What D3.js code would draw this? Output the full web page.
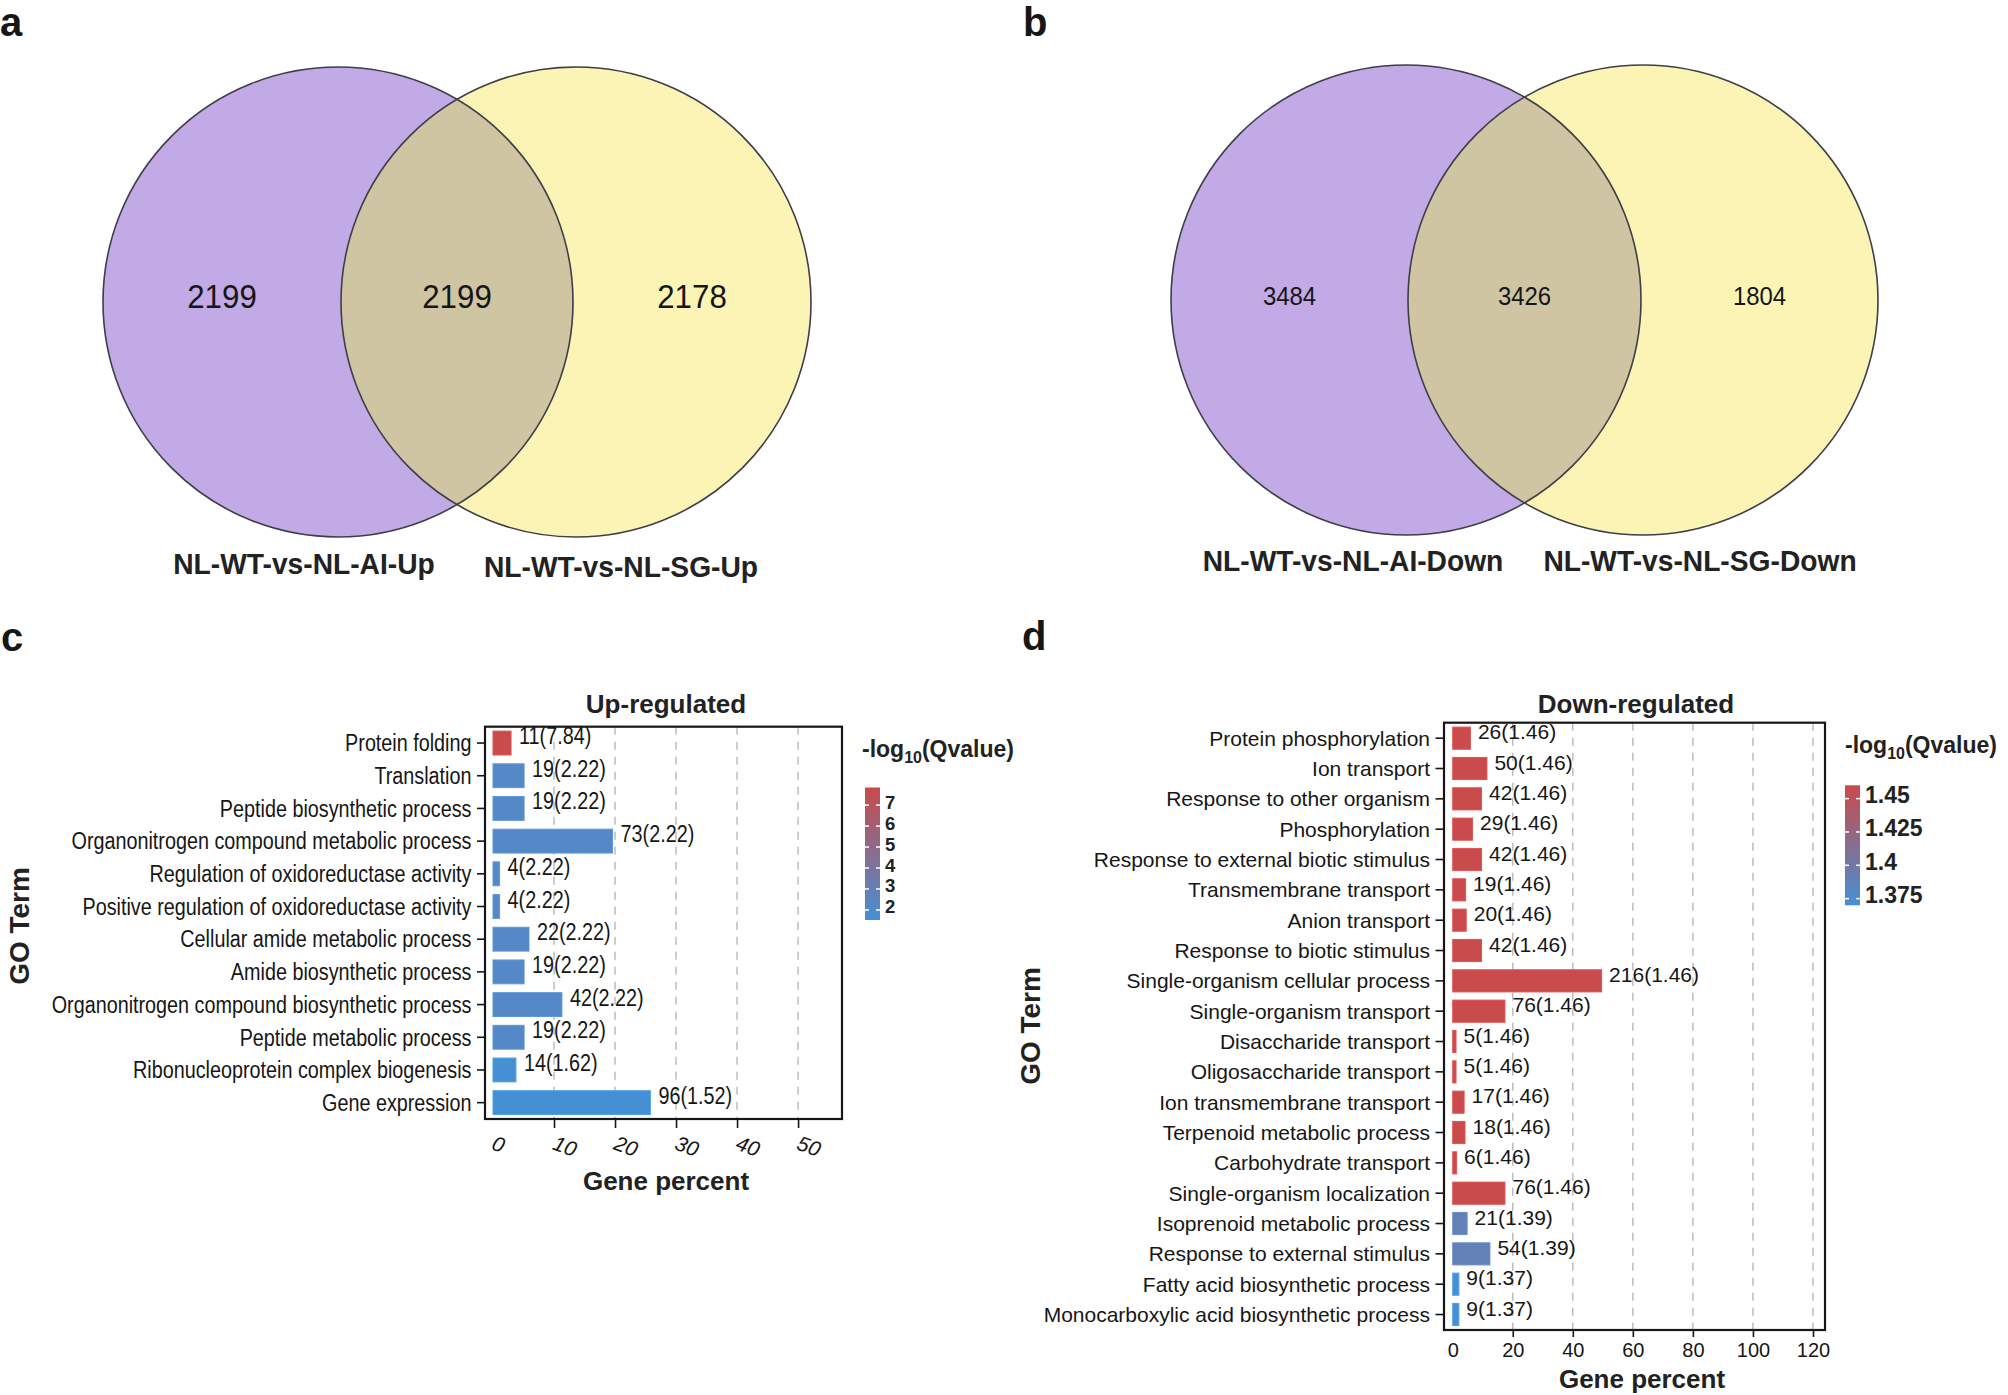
<!DOCTYPE html>
<html>
<head>
<meta charset="utf-8">
<script src="https://cdn.jsdelivr.net/npm/d3@7"></script>
<style>
  html, body { margin: 0; padding: 0; background: #ffffff; }
  svg { display: block; }
</style>
</head>
<body>
<svg id="chart" width="2008" height="1395"></svg>
<script>
// ---------------- DATA ----------------
const vennUpLabels = ["NL-WT-vs-NL-AI-Up", "NL-WT-vs-NL-SG-Up"];
const vennUpCounts = [2199, 2199, 2178];          // left only, overlap, right only
const vennDownLabels = ["NL-WT-vs-NL-AI-Down", "NL-WT-vs-NL-SG-Down"];
const vennDownCounts = [3484, 3426, 1804];

const upTerms = [
  "Protein folding", "Translation", "Peptide biosynthetic process",
  "Organonitrogen compound metabolic process", "Regulation of oxidoreductase activity",
  "Positive regulation of oxidoreductase activity", "Cellular amide metabolic process",
  "Amide biosynthetic process", "Organonitrogen compound biosynthetic process",
  "Peptide metabolic process", "Ribonucleoprotein complex biogenesis", "Gene expression"
];
const upPercent = [2.96, 5.1, 5.1, 19.6, 1.08, 1.08, 5.9, 5.1, 11.3, 5.1, 3.76, 25.8];
const upCounts  = [11, 19, 19, 73, 4, 4, 22, 19, 42, 19, 14, 96];
const upQvalue  = [7.84, 2.22, 2.22, 2.22, 2.22, 2.22, 2.22, 2.22, 2.22, 2.22, 1.62, 1.52];
const upXTicks = [0, 10, 20, 30, 40, 50];
const upLegendTicks = [2, 3, 4, 5, 6, 7];

const downTerms = [
  "Protein phosphorylation", "Ion transport", "Response to other organism", "Phosphorylation",
  "Response to external biotic stimulus", "Transmembrane transport", "Anion transport",
  "Response to biotic stimulus", "Single-organism cellular process", "Single-organism transport",
  "Disaccharide transport", "Oligosaccharide transport", "Ion transmembrane transport",
  "Terpenoid metabolic process", "Carbohydrate transport", "Single-organism localization",
  "Isoprenoid metabolic process", "Response to external stimulus",
  "Fatty acid biosynthetic process", "Monocarboxylic acid biosynthetic process"
];
const downPercent = [5.9, 11.4, 9.6, 6.6, 9.6, 4.3, 4.5, 9.6, 49.6, 17.4,
                     1.1, 1.1, 3.8, 4.1, 1.3, 17.4, 4.8, 12.4, 2.05, 2.05];
const downCounts  = [26, 50, 42, 29, 42, 19, 20, 42, 216, 76, 5, 5, 17, 18, 6, 76, 21, 54, 9, 9];
const downQvalue  = [1.46, 1.46, 1.46, 1.46, 1.46, 1.46, 1.46, 1.46, 1.46, 1.46,
                     1.46, 1.46, 1.46, 1.46, 1.46, 1.46, 1.39, 1.39, 1.37, 1.37];
const downXTicks = [0, 20, 40, 60, 80, 100, 120];
const downLegendTicks = [1.375, 1.4, 1.425, 1.45];

// ---------------- STYLE ----------------
const FONT = '"Liberation Sans", Arial, Helvetica, sans-serif';
const INK = "#161616";
const LOW = "#4590d5", HIGH = "#c94b4b";

const svg = d3.select("#chart").attr("font-family", FONT);
const defs = svg.append("defs");

// panel letters
[["a", 0, 36], ["b", 1023, 36], ["c", 1, 651], ["d", 1022, 650]].forEach(([t, x, y]) => {
  svg.append("text").attr("x", x).attr("y", y).attr("font-size", 40)
    .attr("font-weight", "bold").attr("fill", INK).text(t);
});

// ---------------- VENN ----------------
function drawVenn(o) {
  const g = svg.append("g");
  defs.append("clipPath").attr("id", o.id + "-clip")
    .append("circle").attr("cx", o.cxL).attr("cy", o.cy).attr("r", o.r);
  g.append("circle").attr("cx", o.cxL).attr("cy", o.cy).attr("r", o.r).attr("fill", "#c1aae6");
  g.append("circle").attr("cx", o.cxR).attr("cy", o.cy).attr("r", o.r).attr("fill", "#fcf4b4");
  g.append("circle").attr("cx", o.cxR).attr("cy", o.cy).attr("r", o.r).attr("fill", "#cfc5a2")
    .attr("clip-path", `url(#${o.id}-clip)`);
  [o.cxL, o.cxR].forEach(cx => {
    g.append("circle").attr("cx", cx).attr("cy", o.cy).attr("r", o.r)
      .attr("fill", "none").attr("stroke", "#3e3e48").attr("stroke-width", 1.6);
  });
  const xs = [((o.cxL - o.r) + (o.cxR - o.r)) / 2, (o.cxL + o.cxR) / 2, ((o.cxL + o.r) + (o.cxR + o.r)) / 2];
  g.selectAll("text.num").data(o.counts).join("text")
    .attr("transform", (d, i) => `translate(${xs[i]},${o.numY}) scale(0.92,1)`)
    .attr("text-anchor", "middle").attr("font-size", o.numSize).attr("fill", INK)
    .text(d => d);
  g.selectAll("text.lab").data(o.labels).join("text")
    .attr("transform", (d, i) => `translate(${o.labelX[i]},${o.labelY[i]}) scale(0.94,1)`)
    .attr("text-anchor", "middle").attr("font-size", 30).attr("font-weight", "bold")
    .attr("fill", "#222").text(d => d);
}

drawVenn({ id: "va", cxL: 338, cxR: 576, cy: 302, r: 235, counts: vennUpCounts, numY: 308, numSize: 34,
  labels: vennUpLabels, labelX: [304, 621], labelY: [574, 577] });
drawVenn({ id: "vb", cxL: 1406, cxR: 1643, cy: 300, r: 235, counts: vennDownCounts, numY: 305, numSize: 26,
  labels: vennDownLabels, labelX: [1353, 1700], labelY: [571, 571] });

// ---------------- BAR PANELS ----------------
function barPanel(o) {
  const g = svg.append("g");
  const x = d3.scaleLinear().domain(o.xDomain).range([o.left, o.right]);
  const y = d3.scaleBand().domain(o.terms).range([o.top, o.bottom])
    .paddingInner(o.padIn).paddingOuter(o.padOut);
  const color = d3.scaleLinear().domain(o.qDomain).range([LOW, HIGH]).interpolate(d3.interpolateRgb);
  const sx = o.condense;
  const rows = o.terms.map((t, i) => ({ t, p: o.pct[i], n: o.counts[i], q: o.q[i] }));

  // dashed grid
  g.selectAll("line.grid").data(o.gridTicks).join("line")
    .attr("x1", d => x(d)).attr("x2", d => x(d)).attr("y1", o.top).attr("y2", o.bottom)
    .attr("stroke", "#bdbdbd").attr("stroke-width", 1.5).attr("stroke-dasharray", "8,7");

  // bars
  g.selectAll("rect.bar").data(rows).join("rect")
    .attr("x", x(0)).attr("y", d => y(d.t))
    .attr("width", d => x(d.p) - x(0)).attr("height", y.bandwidth())
    .attr("fill", d => color(d.q))
    .attr("stroke", d => d3.color(color(d.q)).brighter(0.3)).attr("stroke-width", 1);

  // value labels
  g.selectAll("text.val").data(rows).join("text")
    .attr("transform", d => `translate(${x(d.p) + o.valGap},${y(d.t) + y.bandwidth() / 2 + 1}) scale(${sx},1)`)
    .attr("font-size", o.valSize).attr("fill", INK)
    .text(d => `${d.n}(${d.q.toFixed(2)})`);

  // frame
  g.append("rect").attr("x", o.left).attr("y", o.top)
    .attr("width", o.right - o.left).attr("height", o.bottom - o.top)
    .attr("fill", "none").attr("stroke", INK).attr("stroke-width", 2.2);

  // y axis
  const ya = g.append("g").attr("transform", `translate(${o.left},0)`)
    .call(d3.axisLeft(y).tickSize(o.yTick).tickPadding(0));
  ya.attr("font-family", FONT);
  ya.select(".domain").remove();
  ya.selectAll(".tick line").attr("stroke", INK).attr("stroke-width", 1.6);
  ya.selectAll(".tick text").attr("x", 0).attr("dy", null)
    .attr("transform", `translate(${-o.yLabelGap},${0.36 * o.labelSize}) scale(${sx},1)`)
    .attr("font-size", o.labelSize).attr("fill", INK);

  // x axis
  const xa = g.append("g").attr("transform", `translate(0,${o.bottom})`)
    .call(d3.axisBottom(x).tickValues(o.xTicks).tickSize(o.xTick).tickFormat(d3.format("d")));
  xa.attr("font-family", FONT);
  xa.select(".domain").remove();
  xa.selectAll(".tick line").attr("stroke", INK).attr("stroke-width", 1.6);
  xa.selectAll(".tick").filter(d => d === 0).select("line").remove();
  if (o.rotateTicks) {
    xa.selectAll(".tick text").attr("y", 0).attr("dy", null)
      .attr("text-anchor", "start").attr("font-style", "italic")
      .attr("transform", `translate(-3,${o.xLabelY - o.bottom}) rotate(20)`)
      .attr("font-size", o.xTickSize).attr("fill", INK);
  } else {
    xa.selectAll(".tick text").attr("y", o.xLabelY - o.bottom).attr("dy", null)
      .attr("font-size", o.xTickSize).attr("fill", INK);
  }

  // titles
  g.append("text").attr("x", o.titleX).attr("y", 713).attr("text-anchor", "middle")
    .attr("font-size", 26).attr("font-weight", "bold").attr("fill", "#222").text(o.title);
  g.append("text").attr("x", o.xTitleX).attr("y", o.xTitleY).attr("text-anchor", "middle")
    .attr("font-size", o.xTitleSize).attr("font-weight", "bold").attr("fill", "#222").text("Gene percent");
  g.append("text").attr("transform", `translate(${o.yTitleX},${o.yTitleY}) rotate(-90)`)
    .attr("text-anchor", "middle").attr("font-size", 28).attr("font-weight", "bold")
    .attr("fill", "#222").text("GO Term");

  // legend
  const ly = d3.scaleLinear().domain(o.qDomain).range(o.legendRange);
  const gid = o.id + "-grad";
  const grad = defs.append("linearGradient").attr("id", gid)
    .attr("x1", 0).attr("y1", 1).attr("x2", 0).attr("y2", 0);
  grad.append("stop").attr("offset", 0).attr("stop-color", LOW);
  grad.append("stop").attr("offset", 1).attr("stop-color", HIGH);
  const lw = 15;
  g.append("rect").attr("x", o.legendX).attr("y", ly(o.qDomain[1]))
    .attr("width", lw).attr("height", ly(o.qDomain[0]) - ly(o.qDomain[1]))
    .attr("fill", `url(#${gid})`);
  const lt = g.selectAll("g.lt").data(o.legendTicks).join("g");
  lt.append("line").attr("x1", o.legendX).attr("x2", o.legendX + 4)
    .attr("y1", d => ly(d)).attr("y2", d => ly(d)).attr("stroke", "#fff").attr("stroke-width", 1.5);
  lt.append("line").attr("x1", o.legendX + lw - 4).attr("x2", o.legendX + lw)
    .attr("y1", d => ly(d)).attr("y2", d => ly(d)).attr("stroke", "#fff").attr("stroke-width", 1.5);
  lt.append("text").attr("x", o.legendX + lw + 5).attr("y", d => ly(d) + o.legendLabelShift)
    .attr("font-size", o.legendLabelSize).attr("font-weight", "bold").attr("fill", "#222")
    .text(d => d);
  const tt = g.append("text").attr("x", o.legendTitleX).attr("y", o.legendTitleY)
    .attr("font-size", 23).attr("font-weight", "bold").attr("fill", "#222");
  tt.append("tspan").text("-log");
  tt.append("tspan").attr("font-size", 16).attr("dy", 6).text("10");
  tt.append("tspan").attr("dy", -6).text("(Qvalue)");
}

barPanel({
  id: "pc", terms: upTerms, pct: upPercent, counts: upCounts, q: upQvalue,
  left: 485, right: 842, top: 726.7, bottom: 1119, xDomain: [-1.31, 57.2],
  padIn: 0.27, padOut: 0.135, qDomain: [1.52, 7.84],
  gridTicks: [10, 20, 30, 40, 50], xTicks: upXTicks, condense: 0.86,
  labelSize: 23, valSize: 23, valGap: 8, yTick: 8, yLabelGap: 13.5,
  xTick: 9, rotateTicks: true, xLabelY: 1149, xTickSize: 21,
  title: "Up-regulated", titleX: 666, xTitleX: 666, xTitleY: 1190, xTitleSize: 26,
  yTitleX: 28.5, yTitleY: 926,
  legendX: 865, legendRange: [920, 787.5], legendTicks: upLegendTicks,
  legendLabelSize: 18.5, legendLabelShift: 3.5,
  legendTitleX: 862, legendTitleY: 757
});

barPanel({
  id: "pd", terms: downTerms, pct: downPercent, counts: downCounts, q: downQvalue,
  left: 1444, right: 1825, top: 722.7, bottom: 1330, xDomain: [-2.9, 124],
  padIn: 0.27, padOut: 0.145, qDomain: [1.37, 1.46],
  gridTicks: [20, 40, 60, 80, 100, 120], xTicks: downXTicks, condense: 1,
  labelSize: 21, valSize: 21, valGap: 7.5, yTick: 8.5, yLabelGap: 14,
  xTick: 7, rotateTicks: false, xLabelY: 1357, xTickSize: 20,
  title: "Down-regulated", titleX: 1636, xTitleX: 1642, xTitleY: 1388, xTitleSize: 26,
  yTitleX: 1040, yTitleY: 1026,
  legendX: 1845, legendRange: [905.3, 785.3], legendTicks: downLegendTicks,
  legendLabelSize: 23, legendLabelShift: 4.5,
  legendTitleX: 1845, legendTitleY: 753
});
</script>
</body>
</html>
